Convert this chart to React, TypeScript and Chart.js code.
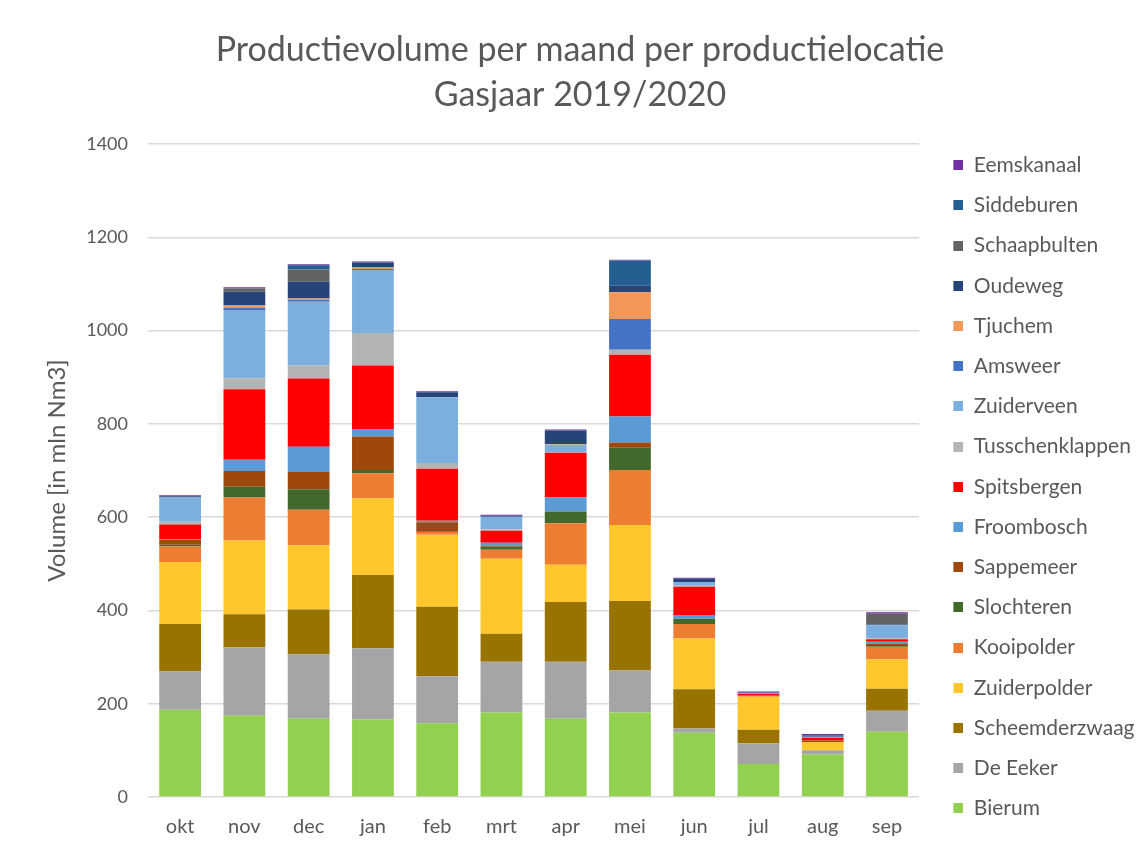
import React, { useEffect, useRef } from 'react';
import { Chart, registerables } from 'chart.js';

Chart.register(...registerables);

const months = ['okt', 'nov', 'dec', 'jan', 'feb', 'mrt', 'apr', 'mei', 'jun', 'jul', 'aug', 'sep'];

const bierum = [187, 174, 168, 166, 158, 181, 168, 181, 138, 71, 91, 140];
const deEeker = [82, 147, 138, 153, 101, 109, 122, 90, 9, 44, 9, 45];
const scheemderzwaag = [102, 71, 96, 157, 149, 60, 128, 149, 84, 29, 0, 47];
const zuiderpolder = [133, 158, 138, 164, 154, 161, 80, 163, 109, 71, 18, 63];
const kooipolder = [33, 92, 76, 54, 6, 19, 89, 118, 31, 2, 0, 27];
const slochteren = [4, 23, 44, 7, 2, 7, 25, 48, 11, 0, 0, 4];
const sappemeer = [10, 34, 37, 72, 19, 2, 0, 11, 0, 0, 3, 3];
const froombosch = [1, 24, 54, 16, 3, 6, 30, 56, 8, 0, 0, 4];
const spitsbergen = [32, 151, 146, 136, 112, 26, 96, 132, 61, 4, 6, 5];
const tusschenklappen = [6, 24, 28, 70, 12, 3, 1, 11, 2, 0, 0, 2];
const zuiderveen = [52, 146, 137, 135, 141, 27, 16, 0, 8, 1, 2, 28];
const amsweer = [0, 5, 4, 2, 0, 0, 0, 66, 0, 0, 0, 0];
const tjuchem = [0, 5, 3, 3, 0, 0, 2, 57, 0, 0, 0, 0];
const oudeweg = [3, 29, 36, 11, 11, 2, 29, 14, 7, 2, 3, 2];
const schaapbulten = [0, 7, 26, 0, 0, 0, 0, 0, 0, 0, 0, 23];
const siddeburen = [0, 0, 9, 0, 0, 0, 0, 54, 0, 0, 0, 0];
const eemskanaal = [2, 3, 2, 2, 2, 2, 2, 2, 2, 2, 3, 3];

const seriesNames = [
  'Bierum', 'De Eeker', 'Scheemderzwaag', 'Zuiderpolder', 'Kooipolder', 'Slochteren',
  'Sappemeer', 'Froombosch', 'Spitsbergen', 'Tusschenklappen', 'Zuiderveen', 'Amsweer',
  'Tjuchem', 'Oudeweg', 'Schaapbulten', 'Siddeburen', 'Eemskanaal',
];
const seriesValues = [
  bierum, deEeker, scheemderzwaag, zuiderpolder, kooipolder, slochteren,
  sappemeer, froombosch, spitsbergen, tusschenklappen, zuiderveen, amsweer,
  tjuchem, oudeweg, schaapbulten, siddeburen, eemskanaal,
];
const seriesColors = [
  '#92D050', '#A5A5A5', '#997300', '#FFC72C', '#ED7D31', '#43682B',
  '#9E480E', '#5B9BD5', '#FF0000', '#B4B4B4', '#7CAFDD', '#4472C4',
  '#F1975A', '#264478', '#636363', '#255E91', '#7030A0',
];

const titleLines = ['Productievolume per maand per productielocatie', 'Gasjaar 2019/2020'];
const yAxisTitle = 'Volume [in mln Nm3]';
const textColor = '#595959';
const fontFamily = 'Lato';

// legend marker: a 10x10 square at the right end of a 25px wide transparent image
function makeMarker(color: string): HTMLCanvasElement {
  const c = document.createElement('canvas');
  c.width = 25;
  c.height = 10;
  const g = c.getContext('2d');
  if (g) {
    g.fillStyle = color;
    g.fillRect(15, 0, 10, 10);
  }
  return c;
}

export default function App() {
  const canvasRef = useRef<HTMLCanvasElement | null>(null);

  useEffect(() => {
    document.body.style.margin = '0';
    const canvas = canvasRef.current;
    if (!canvas) return;
    const markers = seriesColors.map(makeMarker);
    const chart = new Chart(canvas, {
      type: 'bar',
      data: {
        labels: months,
        datasets: seriesNames.map((name, i) => ({
          label: name,
          data: seriesValues[i],
          backgroundColor: seriesColors[i],
          borderWidth: 0,
          categoryPercentage: 1,
          barPercentage: 0.65,
        })),
      },
      options: {
        responsive: false,
        animation: false,
        layout: { padding: { left: 15.5, right: 3.5, top: 0, bottom: 0 } },
        plugins: {
          title: {
            display: true,
            text: titleLines,
            color: textColor,
            font: { family: fontFamily, size: 34, weight: 'normal', lineHeight: 45 / 34 },
            padding: { top: 27.5, bottom: 26.5 },
          },
          legend: {
            position: 'right',
            align: 'start',
            reverse: true,
            weight: 3000,
            title: {
              display: true,
              text: ' ',
              font: { family: fontFamily, size: 10, lineHeight: 1 },
              padding: { top: 125.5, bottom: 0 },
            },
            labels: {
              usePointStyle: true,
              pointStyleWidth: 25,
              boxHeight: 10,
              padding: 19.2,
              color: textColor,
              font: { family: fontFamily, size: 21 },
              generateLabels: (ch: any) => {
                const items = Chart.defaults.plugins.legend.labels.generateLabels(ch);
                return items.map((it: any) => ({ ...it, pointStyle: markers[it.datasetIndex] }));
              },
            },
          },
          tooltip: { enabled: false },
        },
        scales: {
          x: {
            stacked: true,
            grid: { display: false, drawTicks: false },
            border: { display: false },
            ticks: { color: textColor, font: { family: fontFamily, size: 20 }, padding: 18 },
            afterFit: (s: any) => { s.height = 55; },
          },
          y: {
            stacked: true,
            min: 0,
            max: 1400,
            ticks: {
              stepSize: 200,
              color: textColor,
              font: { family: fontFamily, size: 18 },
              padding: 20,
              callback: (v: any) => String(v),
            },
            grid: { color: '#D9D9D9', lineWidth: 1.5, drawTicks: false },
            border: { display: false },
            title: {
              display: true,
              text: yAxisTitle,
              color: textColor,
              font: { family: fontFamily, size: 24 },
              padding: { top: 27.1, bottom: 0 },
            },
            afterFit: (s: any) => { s.width = 132.5; },
          },
        },
      },
    });
    return () => chart.destroy();
  }, []);

  return (
    <div style={{ width: 1148, height: 852 }}>
      <canvas ref={canvasRef} width={1148} height={852} style={{ display: 'block' }} />
    </div>
  );
}
